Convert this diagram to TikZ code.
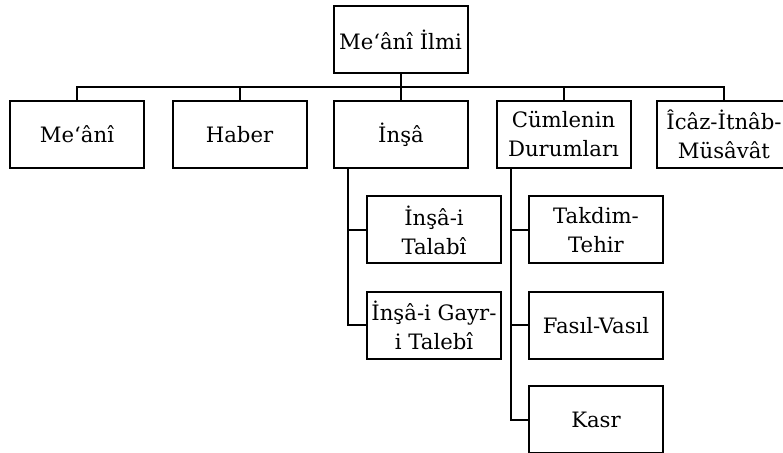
\documentclass[tikz,border=0pt]{standalone}
\usepackage{fontspec}
\setmainfont{DejaVu Serif}
\usepackage{tikz}
\tikzstyle{box}=[rectangle,draw=black,line width=1pt,align=center,
  minimum width=67pt,minimum height=33.5pt,inner xsep=1pt,inner ysep=2pt,
  font=\fontsize{10.6}{14.5}\selectfont]
\tikzstyle{none}=[]
\begin{document}
\begin{tikzpicture}[x=0.5pt,y=-0.5pt,line width=1pt]
            \useasboundingbox (0,0) rectangle (783,453);
            \node [style=box] (0) at (400.5, 40) {Me‘ânî İlmi};
            \node [style=box] (1) at (77, 134.5) {Me‘ânî};
            \node [style=box] (2) at (239.5, 134.5) {Haber};
            \node [style=box] (3) at (401, 134.5) {İnşâ};
            \node [style=box] (4) at (563.5, 134.5) {Cümlenin\\Durumları};
            \node [style=box] (5) at (724, 134.5) {Îcâz-İtnâb-\\Müsâvât};
            \node [style=box] (6) at (434, 230) {İnşâ-i\\Talabî};
            \node [style=box] (7) at (434, 325.5) {İnşâ-i Gayr-\\i Talebî};
            \node [style=box] (8) at (596, 230) {Takdim-\\Tehir};
            \node [style=box] (9) at (596, 325.5) {Fasıl-Vasıl};
            \node [style=box] (10) at (596, 420) {Kasr};
            \node [style=none] (11) at (400.5, 87) {};
            \node [style=none] (12) at (347.5, 168) {};
            \node [style=none] (13) at (511, 168) {};
            \draw (0) to (11.center);
            \draw (11.center) -| (1.north);
            \draw (11.center) -| (2.north);
            \draw (11.center) -| (3.north);
            \draw (11.center) -| (4.north);
            \draw (11.center) -| (5.north);
            \draw (12.center) |- (6.west);
            \draw (12.center) |- (7.west);
            \draw (13.center) |- (8.west);
            \draw (13.center) |- (9.west);
            \draw (13.center) |- (10.west);
    \end{tikzpicture}
\end{document}
